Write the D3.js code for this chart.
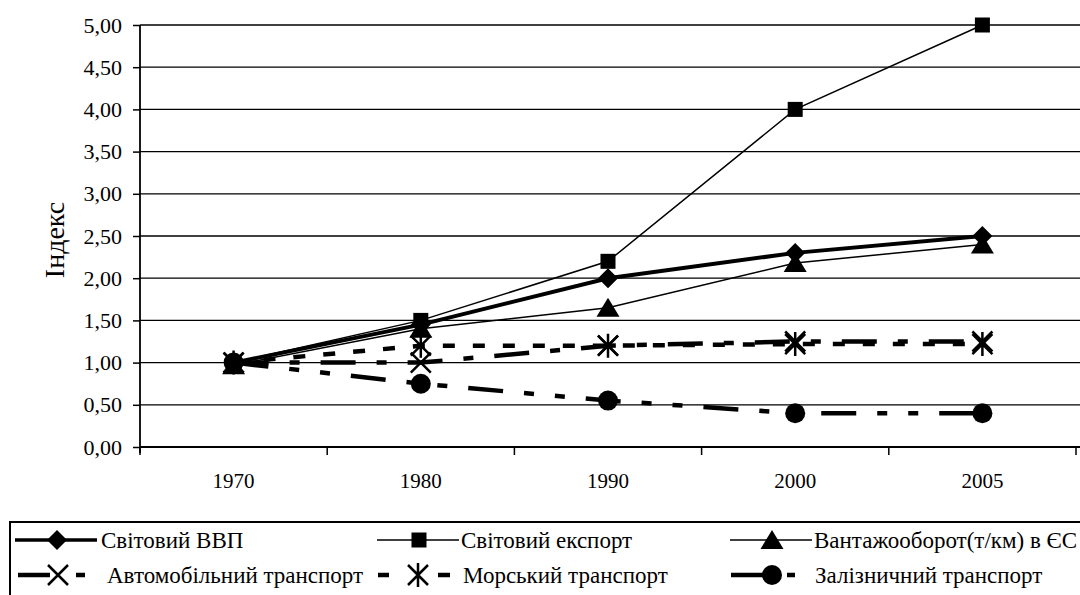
<!DOCTYPE html>
<html>
<head>
<meta charset="utf-8">
<script src="https://cdn.jsdelivr.net/npm/d3@7"></script>
<style>
  body { margin: 0; background: #fff; }
  svg, svg text { font-family: "Liberation Serif", "Times New Roman", serif; }
</style>
</head>
<body>
<div id="chart"></div>
<script>
// дані
const years = ["1970", "1980", "1990", "2000", "2005"];
const gdp = [1.0, 1.45, 2.0, 2.3, 2.5];
const exportW = [1.0, 1.5, 2.2, 4.0, 5.0];
const freightEU = [0.97, 1.4, 1.65, 2.18, 2.4];
const roadT = [1.0, 1.0, 1.2, 1.25, 1.25];
const seaT = [1.0, 1.2, 1.2, 1.22, 1.22];
const railT = [1.0, 0.75, 0.55, 0.4, 0.4];
const yTicks = [0, 0.5, 1, 1.5, 2, 2.5, 3, 3.5, 4, 4.5, 5];

const series = [
  { name: "Світовий ВВП", values: gdp, width: 4, dash: null, marker: "diamond" },
  { name: "Світовий експорт", values: exportW, width: 1.5, dash: null, marker: "square" },
  { name: "Вантажооборот(т/км) в ЄС", values: freightEU, width: 1.5, dash: null, marker: "triangle" },
  { name: "Автомобільний транспорт", values: roadT, width: 4.5, dash: "35,21,10,21", marker: "x" },
  { name: "Морський транспорт", values: seaT, width: 4.5, dash: "12,18", marker: "star" },
  { name: "Залізничний транспорт", values: railT, width: 4.5, dash: "35,21,10,21,10,21", marker: "circle" }
];

const W = 1080, H = 595;
const margin = { top: 25, left: 140, right: 4, bottom: 148 };

const svg = d3.select("#chart").append("svg").attr("width", W).attr("height", H);

const x = d3.scaleBand().domain(years).range([margin.left, W - margin.right]);
const y = d3.scaleLinear().domain([0, 5]).range([H - margin.bottom, margin.top]);
const cx = d => x(d) + x.bandwidth() / 2;

// сітка
svg.append("g")
  .selectAll("line").data(yTicks.filter(d => d > 0)).join("line")
  .attr("x1", margin.left).attr("x2", W)
  .attr("y1", d => y(d)).attr("y2", d => y(d))
  .attr("stroke", "#000").attr("stroke-width", 1.3);

// вісь y
const yAxis = svg.append("g").attr("transform", `translate(${margin.left},0)`)
  .call(d3.axisLeft(y).tickValues(yTicks).tickSize(7).tickPadding(11)
    .tickFormat(d => d3.format(".2f")(d).replace(".", ",")));
yAxis.attr("font-family", null).attr("font-size", null);
yAxis.select(".domain").attr("stroke-width", 1.8).attr("d", `M0,${y(5)}V${y(0) + 6}`);
yAxis.selectAll(".tick line").attr("stroke-width", 1.5);
yAxis.selectAll("text").attr("fill", "#000").style("font-size", "22px");

// вісь x
const xAxis = svg.append("g").attr("transform", `translate(0,${y(0)})`);
xAxis.append("line").attr("x1", margin.left).attr("x2", W).attr("stroke", "#000").attr("stroke-width", 1.8);
xAxis.selectAll(".tk").data(years.concat(["end"])).join("line")
  .attr("x1", (d, i) => margin.left + i * x.bandwidth())
  .attr("x2", (d, i) => margin.left + i * x.bandwidth())
  .attr("y1", 0).attr("y2", 8).attr("stroke", "#000").attr("stroke-width", 1.5);
xAxis.selectAll("text").data(years).join("text")
  .attr("x", d => cx(d)).attr("y", 41)
  .attr("text-anchor", "middle").style("font-size", "21px").text(d => d);

// назва осі
svg.append("text")
  .attr("transform", `translate(64,240) rotate(-90)`)
  .attr("text-anchor", "middle").style("font-size", "28px").text("Індекс");

// маркери
function drawMarker(g, type, px, py) {
  if (type === "diamond") {
    g.append("path").attr("d", `M${px},${py - 10}L${px + 10},${py}L${px},${py + 10}L${px - 10},${py}Z`).attr("fill", "#000");
  } else if (type === "square") {
    g.append("rect").attr("x", px - 7.5).attr("y", py - 7.5).attr("width", 15).attr("height", 15).attr("fill", "#000");
  } else if (type === "triangle") {
    g.append("path").attr("d", `M${px},${py - 10}L${px + 11.5},${py + 9}L${px - 11.5},${py + 9}Z`).attr("fill", "#000");
  } else if (type === "circle") {
    g.append("circle").attr("cx", px).attr("cy", py).attr("r", 10).attr("fill", "#000");
  } else if (type === "x") {
    g.append("path").attr("d", `M${px - 10},${py - 10}L${px + 10},${py + 10}M${px - 10},${py + 10}L${px + 10},${py - 10}`)
      .attr("stroke", "#000").attr("stroke-width", 2.5);
  } else if (type === "star") {
    g.append("path").attr("d", `M${px - 10},${py - 10}L${px + 10},${py + 10}M${px - 10},${py + 10}L${px + 10},${py - 10}M${px},${py - 12}L${px},${py + 12}`)
      .attr("stroke", "#000").attr("stroke-width", 2.5);
  }
}

const line = d3.line().x((d, i) => cx(years[i])).y(d => y(d));

// лінії (спочатку пунктирні, потім суцільні)
const order = [5, 4, 3, 2, 1, 0];
order.forEach(k => {
  const s = series[k];
  const g = svg.append("g");
  g.append("path").datum(s.values).attr("d", line)
    .attr("fill", "none").attr("stroke", "#000")
    .attr("stroke-width", s.width).attr("stroke-dasharray", s.dash);
  s.values.forEach((v, i) => drawMarker(g, s.marker, cx(years[i]), y(v)));
});

// легенда
const lg = svg.append("g");
lg.append("rect").attr("x", 10).attr("y", 522).attr("width", 1100).attr("height", 100)
  .attr("fill", "none").attr("stroke", "#000").attr("stroke-width", 2);
const colX = [15, 377, 730];
const rowY = [540, 575];
const textOff = [[86, 84, 84], [92, 86, 85]];
series.forEach((s, i) => {
  const col = i % 3, row = Math.floor(i / 3);
  const lx = colX[col], ly = rowY[row];
  const g = lg.append("g");
  const seg = (a, b) => g.append("line").attr("x1", lx + a).attr("x2", lx + b).attr("y1", ly).attr("y2", ly)
    .attr("stroke", "#000").attr("stroke-width", s.width);
  if (s.marker === "star") {
    seg(1, 12); seg(61, 73);
    drawMarker(g, s.marker, lx + 41, ly);
  } else if (s.marker === "x") {
    seg(3, 35); seg(61, 70);
    drawMarker(g, s.marker, lx + 43, ly);
  } else if (s.marker === "circle") {
    seg(1, 37); seg(57, 65);
    drawMarker(g, s.marker, lx + 42, ly);
  } else {
    g.append("line").attr("x1", lx).attr("x2", lx + 82).attr("y1", ly).attr("y2", ly)
      .attr("stroke", "#000").attr("stroke-width", s.width === 4 ? 3.5 : 1.5);
    drawMarker(g, s.marker, lx + 42, ly);
  }
  g.append("text").attr("x", lx + textOff[row][col]).attr("y", ly + 8)
    .style("font-size", "23px").text(s.name);
});
</script>
</body>
</html>
